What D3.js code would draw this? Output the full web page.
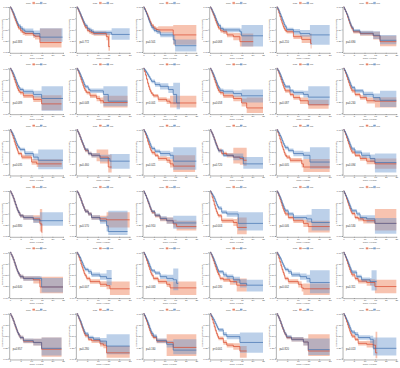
<!DOCTYPE html>
<html>
<head>
<meta charset="utf-8">
<script src="https://cdn.jsdelivr.net/npm/d3@7"></script>
<style>
  html, body { margin: 0; padding: 0; background: #fff; }
  svg { display: block; font-family: "Liberation Sans", Arial, sans-serif; }
  .axis path, .axis line { stroke: #555; stroke-width: 0.45; }
  .axis text { font-size: 2.4px; fill: #555; }
</style>
</head>
<body>
<svg id="chart"></svg>
<script>
// Achsen
const TIME_TICKS = [0, 5, 10, 15, 20, 25];
const SURV_TICKS = [0, 0.25, 0.5, 0.75, 1];
const GROUPS = ['high', 'low'];
const LEGEND_TITLE = 'Risk';
const X_TITLE = 'Time (years)';
const Y_TITLE = 'Survival probability';

const P_VALUES = [
  'p=0.383', 'p=0.772', 'p=0.501', 'p=0.068', 'p=0.210', 'p=0.690',
  'p=0.089', 'p=0.048', 'p<0.001', 'p=0.058', 'p=0.087', 'p=0.240',
  'p=0.035', 'p=0.460', 'p=0.021', 'p=0.720', 'p=0.005', 'p=0.094',
  'p=0.880', 'p=0.570', 'p=0.910', 'p=0.003', 'p=0.046', 'p=0.530',
  'p=0.640', 'p=0.007', 'p=0.063', 'p=0.180', 'p=0.002', 'p=0.311',
  'p=0.957', 'p=0.280', 'p=0.160', 'p<0.001', 'p=0.820', 'p=0.013'
];

// Kurven: [Zeit, Ueberleben, untere KI, obere KI]
const r1c1High = [[0,1,1,1],[.5,.95,.93,.97],[1,.89,.86,.92],[1.5,.83,.79,.87],[2,.76,.72,.8],[2.5,.7,.66,.74],[3,.64,.6,.68],[3.5,.58,.54,.62],[4,.53,.49,.57],[5,.47,.43,.52],[6,.43,.38,.48],[7,.41,.36,.46],[11,.37,.31,.43],[11.8,.35,.28,.42],[14.1,.21,.1,.52],[24.3,.21,.1,.52]];
const r1c1Low = [[0,1,1,1],[.5,.96,.94,.98],[1,.91,.88,.94],[1.5,.86,.83,.89],[2,.8,.76,.84],[2.5,.74,.7,.78],[3,.68,.64,.72],[3.5,.63,.59,.67],[4,.58,.54,.62],[5,.53,.48,.58],[6,.49,.44,.54],[7,.46,.4,.52],[11,.41,.34,.48],[14.1,.33,.23,.53],[24.8,.33,.23,.53]];
const r1c2High = [[0,1,1,1],[.5,.95,.93,.97],[1,.9,.87,.93],[1.5,.84,.81,.87],[2,.78,.74,.82],[2.5,.72,.68,.76],[3,.66,.62,.7],[3.5,.6,.56,.64],[4,.55,.51,.59],[5,.48,.44,.52],[6,.45,.4,.5],[7,.43,.38,.48],[8,.41,.36,.46],[14,.34,.26,.42],[15,.12,.03,.41],[15.7,.12,.03,.41]];
const r1c2Low = [[0,1,1,1],[.5,.96,.94,.98],[1,.91,.88,.94],[1.5,.86,.83,.89],[2,.8,.76,.84],[2.5,.75,.71,.79],[3,.69,.65,.73],[3.5,.64,.6,.68],[4,.59,.55,.63],[5,.52,.48,.56],[6,.49,.44,.54],[7,.46,.41,.51],[8,.43,.38,.48],[16.5,.39,.27,.53],[25,.39,.27,.53]];
const r1c3High = [[0,1,1,1],[.5,.96,.94,.98],[1,.91,.88,.94],[1.5,.86,.83,.89],[2,.8,.76,.84],[2.5,.74,.7,.78],[3,.68,.64,.72],[3.5,.63,.59,.67],[4,.58,.54,.62],[5,.53,.49,.57],[6,.5,.45,.55],[7,.49,.43,.57],[14.1,.38,.16,.6],[25,.38,.16,.6]];
const r1c3Low = [[0,1,1,1],[.5,.95,.93,.97],[1,.9,.87,.93],[1.5,.84,.81,.87],[2,.78,.74,.82],[2.5,.71,.67,.75],[3,.65,.61,.69],[3.5,.59,.55,.63],[4,.54,.5,.58],[5,.48,.44,.53],[6.3,.45,.4,.5],[8,.38,.33,.44],[14.1,.27,.18,.38],[15,.14,.01,.28],[25,.14,.01,.28]];
const r1c4High = [[0,1,1,1],[.5,.95,.93,.97],[1,.89,.86,.92],[1.5,.83,.8,.86],[2,.77,.73,.81],[2.5,.7,.66,.74],[3,.64,.6,.68],[3.5,.58,.54,.62],[4,.53,.49,.57],[5,.47,.43,.51],[6.3,.45,.4,.5],[8,.38,.33,.43],[11,.34,.26,.42],[14.1,.23,.12,.41],[20.4,.23,.12,.41]];
const r1c4Low = [[0,1,1,1],[.5,.96,.94,.98],[1,.91,.88,.94],[1.5,.86,.83,.89],[2,.81,.77,.85],[2.5,.75,.71,.79],[3,.69,.65,.73],[3.5,.64,.6,.68],[4,.59,.55,.63],[5,.52,.48,.56],[6.3,.49,.44,.54],[14.1,.45,.38,.52],[14.9,.36,.12,.6],[25,.36,.12,.6]];
const r1c5High = [[0,1,1,1],[.5,.94,.92,.96],[1,.87,.84,.9],[1.5,.79,.76,.82],[2,.71,.67,.75],[2.5,.64,.6,.68],[3,.57,.53,.61],[3.5,.52,.48,.56],[4,.48,.44,.52],[4.7,.45,.41,.49],[7.9,.34,.29,.39],[11.8,.28,.2,.38],[16,.19,.08,.41],[16.5,.19,.08,.41]];
const r1c5Low = [[0,1,1,1],[.5,.96,.94,.98],[1,.91,.88,.94],[1.5,.85,.82,.88],[2,.79,.75,.83],[2.5,.73,.69,.77],[3,.67,.63,.71],[3.5,.61,.57,.65],[4,.56,.52,.6],[4.7,.5,.46,.54],[7.9,.45,.39,.51],[11,.41,.34,.49],[15.7,.38,.16,.6],[25,.38,.16,.6]];
const r1c6High = [[0,1,1,1],[.5,.95,.93,.97],[1,.9,.87,.93],[1.5,.84,.81,.87],[2,.77,.73,.81],[2.5,.7,.66,.74],[3,.63,.59,.67],[3.5,.57,.53,.61],[4,.52,.48,.56],[4.7,.45,.41,.49],[7.9,.41,.36,.46],[14.1,.36,.28,.45],[17.3,.23,.13,.36],[25,.23,.13,.36]];
const r1c6Low = [[0,1,1,1],[.5,.95,.93,.97],[1,.9,.87,.93],[1.5,.85,.82,.88],[2,.79,.75,.83],[2.5,.72,.68,.76],[3,.65,.61,.69],[3.5,.59,.55,.63],[4,.54,.5,.58],[4.7,.47,.43,.51],[7.9,.42,.37,.47],[14.1,.37,.29,.46],[17.3,.26,.17,.38],[25,.26,.17,.38]];

const r2c1High = [[0,1,1,1],[.5,.95,.93,.97],[1,.89,.86,.92],[1.5,.82,.79,.85],[2,.75,.71,.79],[2.5,.68,.64,.72],[3,.61,.57,.65],[3.5,.55,.51,.59],[4,.5,.46,.54],[4.7,.46,.42,.5],[6.3,.39,.34,.44],[11,.31,.25,.38],[14.9,.21,.07,.4],[24.3,.21,.07,.4]];
const r2c1Low = [[0,1,1,1],[.5,.96,.94,.98],[1,.92,.89,.95],[1.5,.87,.84,.9],[2,.81,.77,.85],[2.5,.75,.71,.79],[3,.69,.65,.73],[3.5,.63,.59,.67],[4,.58,.54,.62],[4.7,.53,.49,.57],[6.3,.48,.43,.53],[11,.42,.35,.5],[14.9,.33,.06,.6],[25,.33,.06,.6]];
const r2c2High = [[0,1,1,1],[.5,.95,.93,.97],[1,.89,.86,.92],[1.5,.82,.79,.85],[2,.75,.71,.79],[2.5,.68,.64,.72],[3,.61,.57,.65],[3.5,.55,.51,.59],[4,.5,.46,.54],[4.7,.46,.42,.5],[6.3,.39,.34,.44],[9.4,.33,.27,.39],[11,.28,.22,.35],[12.6,.24,.13,.39],[24,.24,.13,.39]];
const r2c2Low = [[0,1,1,1],[.5,.96,.94,.98],[1,.92,.89,.95],[1.5,.87,.84,.9],[2,.81,.77,.85],[2.5,.76,.72,.8],[3,.7,.66,.74],[3.5,.64,.6,.68],[4,.59,.55,.63],[5.5,.53,.49,.57],[6.3,.5,.45,.55],[12.6,.42,.16,.6],[14.9,.27,.16,.6],[24,.27,.16,.6]];
const r2c3High = [[0,1,1,1],[.5,.93,.91,.95],[1,.85,.82,.88],[1.5,.76,.73,.79],[2,.67,.63,.71],[2.5,.59,.55,.63],[3,.52,.48,.56],[3.5,.47,.43,.51],[4,.43,.39,.47],[4.7,.39,.35,.43],[7,.31,.26,.36],[11,.27,.21,.33],[12.6,.23,.13,.39],[25,.23,.13,.39]];
const r2c3Low = [[0,1,1,1],[.5,.97,.95,.99],[1,.94,.91,.97],[1.5,.9,.87,.93],[2,.86,.82,.9],[2.5,.82,.78,.86],[3,.78,.74,.82],[3.5,.74,.7,.78],[3.9,.71,.67,.75],[5.5,.64,.59,.69],[7.9,.6,.53,.67],[11.8,.53,.45,.61],[14.1,.42,.2,.68],[15.7,.23,.09,.68],[17.3,.23,.09,.68]];
const r2c4High = [[0,1,1,1],[.5,.95,.93,.97],[1,.89,.86,.92],[1.5,.82,.79,.85],[2,.75,.71,.79],[2.5,.68,.64,.72],[3,.61,.57,.65],[3.5,.55,.51,.59],[4,.5,.46,.54],[4.7,.46,.42,.5],[6.3,.39,.34,.44],[11,.33,.27,.39],[14.9,.23,.15,.33],[17.3,.12,.01,.35],[25,.12,.01,.35]];
const r2c4Low = [[0,1,1,1],[.5,.96,.94,.98],[1,.91,.88,.94],[1.5,.86,.83,.89],[2,.8,.76,.84],[2.5,.74,.7,.78],[3,.68,.64,.72],[3.5,.62,.58,.66],[4,.57,.53,.61],[4.7,.51,.47,.55],[6.3,.48,.43,.53],[11,.44,.37,.51],[14.9,.39,.24,.53],[25,.39,.24,.53]];
const r2c5High = [[0,1,1,1],[.5,.95,.93,.97],[1,.89,.86,.92],[1.5,.82,.79,.85],[2,.75,.71,.79],[2.5,.68,.64,.72],[3,.61,.57,.65],[3.5,.55,.51,.59],[4,.5,.46,.54],[6.3,.42,.38,.46],[7.9,.35,.3,.4],[11,.28,.21,.35],[14.9,.19,.1,.3],[24.5,.19,.1,.3]];
const r2c5Low = [[0,1,1,1],[.5,.96,.94,.98],[1,.92,.89,.95],[1.5,.87,.84,.9],[2,.81,.77,.85],[2.5,.75,.71,.79],[3,.69,.65,.73],[3.5,.64,.6,.68],[4,.59,.55,.63],[6.3,.5,.46,.54],[7.9,.46,.41,.51],[12.6,.42,.35,.5],[14.9,.36,.18,.6],[25,.36,.18,.6]];
const r2c6High = [[0,1,1,1],[.5,.95,.93,.97],[1,.89,.86,.92],[1.5,.82,.79,.85],[2,.75,.71,.79],[2.5,.68,.64,.72],[3,.61,.57,.65],[3.5,.55,.51,.59],[4,.5,.46,.54],[5.5,.42,.38,.46],[7.9,.35,.3,.4],[11,.28,.22,.35],[14.9,.27,.13,.36],[25,.27,.13,.36]];
const r2c6Low = [[0,1,1,1],[.5,.96,.94,.98],[1,.91,.88,.94],[1.5,.86,.83,.89],[2,.8,.76,.84],[2.5,.74,.7,.78],[3,.68,.64,.72],[3.5,.62,.58,.66],[4,.57,.53,.61],[5.5,.5,.46,.54],[9.4,.42,.36,.48],[14.1,.35,.27,.44],[17.3,.29,.14,.5],[25,.29,.14,.5]];

const r3c1High = [[0,1,1,1],[.5,.94,.92,.96],[1,.88,.85,.91],[1.5,.81,.78,.84],[2,.73,.69,.77],[2.5,.66,.62,.7],[3,.59,.55,.63],[3.5,.53,.49,.57],[3.9,.47,.43,.51],[5.5,.39,.34,.44],[10.2,.28,.22,.35],[12.6,.24,.17,.34],[24.4,.24,.17,.34]];
const r3c1Low = [[0,1,1,1],[.5,.96,.94,.98],[1,.92,.89,.95],[1.5,.87,.84,.9],[2,.81,.77,.85],[2.5,.75,.71,.79],[3,.69,.65,.73],[3.5,.64,.6,.68],[4,.6,.56,.64],[4.7,.56,.52,.6],[7,.47,.42,.52],[11,.39,.32,.47],[13.3,.32,.12,.56],[25,.32,.12,.56]];
const r3c2High = [[0,1,1,1],[.5,.95,.93,.97],[1,.9,.87,.93],[1.5,.84,.81,.87],[2,.77,.73,.81],[2.5,.71,.67,.75],[3,.65,.61,.69],[3.5,.59,.55,.63],[4,.54,.5,.58],[5.5,.47,.43,.51],[7,.43,.38,.48],[9.4,.43,.3,.56],[11,.39,.25,.56],[14.9,.17,.05,.45],[16.5,.17,.05,.45]];
const r3c2Low = [[0,1,1,1],[.5,.95,.93,.97],[1,.9,.87,.93],[1.5,.84,.81,.87],[2,.78,.74,.82],[2.5,.72,.68,.76],[3,.66,.62,.7],[3.5,.6,.56,.64],[4,.55,.51,.59],[5.5,.47,.43,.51],[7,.43,.38,.48],[11,.36,.29,.44],[15.7,.3,.13,.46],[25,.3,.13,.46]];
const r3c3High = [[0,1,1,1],[.5,.95,.93,.97],[1,.89,.86,.92],[1.5,.82,.79,.85],[2,.74,.7,.78],[2.5,.67,.63,.71],[3,.6,.56,.64],[3.5,.54,.5,.58],[4,.49,.45,.53],[5.5,.43,.39,.47],[7,.36,.31,.41],[11,.32,.26,.39],[12.6,.24,.16,.34],[14.1,.19,.06,.43],[24.4,.19,.06,.43]];
const r3c3Low = [[0,1,1,1],[.5,.96,.94,.98],[1,.92,.89,.95],[1.5,.87,.84,.9],[2,.81,.77,.85],[2.5,.75,.71,.79],[3,.69,.65,.73],[3.5,.63,.59,.67],[4,.58,.54,.62],[5.5,.52,.48,.56],[7.9,.47,.41,.53],[12.6,.43,.35,.51],[14.1,.3,.11,.61],[25,.3,.11,.61]];
const r3c4High = [[0,1,1,1],[.5,.95,.93,.97],[1,.9,.87,.93],[1.5,.84,.81,.87],[2,.78,.74,.82],[2.5,.71,.67,.75],[3,.65,.61,.69],[3.5,.59,.55,.63],[4,.54,.5,.58],[5.5,.47,.43,.51],[7.9,.43,.38,.48],[11,.39,.25,.6],[14.1,.36,.22,.6],[15.7,.32,.2,.6],[17.3,.32,.2,.6]];
const r3c4Low = [[0,1,1,1],[.5,.95,.93,.97],[1,.9,.87,.93],[1.5,.84,.81,.87],[2,.77,.73,.81],[2.5,.7,.66,.74],[3,.64,.6,.68],[3.5,.58,.54,.62],[4,.53,.49,.57],[6.3,.43,.39,.47],[11,.39,.32,.47],[15.7,.24,.13,.39],[25,.24,.13,.39]];
const r3c5High = [[0,1,1,1],[.5,.94,.92,.96],[1,.87,.84,.9],[1.5,.79,.76,.82],[2,.71,.67,.75],[2.5,.63,.59,.67],[3,.56,.52,.6],[3.5,.49,.45,.53],[4,.43,.39,.47],[4.7,.39,.35,.43],[6.3,.32,.27,.37],[11.8,.24,.16,.33],[12.6,.17,.06,.35],[25,.17,.06,.35]];
const r3c5Low = [[0,1,1,1],[.5,.96,.94,.98],[1,.92,.89,.95],[1.5,.87,.84,.9],[2,.82,.78,.86],[2.5,.76,.72,.8],[3,.7,.66,.74],[3.5,.65,.61,.69],[4,.6,.56,.64],[5.5,.54,.5,.58],[7.9,.47,.41,.53],[12.6,.43,.35,.51],[15.7,.28,.13,.61],[25,.28,.13,.61]];
const r3c6High = [[0,1,1,1],[.5,.95,.93,.97],[1,.89,.86,.92],[1.5,.82,.79,.85],[2,.75,.71,.79],[2.5,.68,.64,.72],[3,.61,.57,.65],[3.5,.55,.51,.59],[4,.5,.46,.54],[5.5,.43,.39,.47],[7.9,.36,.31,.41],[11,.3,.23,.37],[14.9,.24,.13,.36],[25,.24,.13,.36]];
const r3c6Low = [[0,1,1,1],[.5,.96,.94,.98],[1,.91,.88,.94],[1.5,.86,.83,.89],[2,.8,.76,.84],[2.5,.74,.7,.78],[3,.68,.64,.72],[3.5,.62,.58,.66],[4,.57,.53,.61],[5.5,.5,.46,.54],[8.6,.43,.37,.49],[12.6,.36,.28,.45],[14.9,.27,.05,.47],[25,.27,.05,.47]];

const r4c1High = [[0,1,1,1],[.5,.95,.93,.97],[1,.9,.87,.93],[1.5,.84,.81,.87],[2,.77,.73,.81],[2.5,.7,.66,.74],[3,.63,.59,.67],[3.5,.57,.53,.61],[4,.52,.48,.56],[4.7,.45,.41,.49],[6.3,.41,.36,.46],[11,.38,.3,.46],[14.1,.27,.1,.6],[15,.08,0,.6],[15.2,.08,0,.6]];
const r4c1Low = [[0,1,1,1],[.5,.95,.93,.97],[1,.9,.87,.93],[1.5,.84,.81,.87],[2,.77,.73,.81],[2.5,.7,.66,.74],[3,.63,.59,.67],[3.5,.57,.53,.61],[4,.52,.48,.56],[4.7,.45,.41,.49],[6.3,.41,.36,.46],[11,.36,.29,.43],[14.1,.34,.23,.53],[25,.34,.23,.53]];
const r4c2High = [[0,1,1,1],[.5,.96,.94,.98],[1,.91,.88,.94],[1.5,.85,.82,.88],[2,.79,.75,.83],[2.5,.72,.68,.76],[3,.66,.62,.7],[3.5,.6,.56,.64],[4,.55,.51,.59],[5.5,.49,.45,.53],[7,.41,.36,.46],[11,.38,.31,.45],[14.1,.36,.19,.53],[25,.36,.19,.53]];
const r4c2Low = [[0,1,1,1],[.5,.96,.94,.98],[1,.91,.88,.94],[1.5,.85,.82,.88],[2,.79,.75,.83],[2.5,.72,.68,.76],[3,.66,.62,.7],[3.5,.6,.56,.64],[4,.55,.51,.59],[5.5,.49,.45,.53],[7,.41,.36,.46],[11,.34,.27,.42],[14.1,.23,.1,.45],[14.9,.1,.02,.56],[24,.1,.02,.56]];
const r4c3High = [[0,1,1,1],[.5,.95,.93,.97],[1,.9,.87,.93],[1.5,.84,.81,.87],[2,.77,.73,.81],[2.5,.71,.67,.75],[3,.64,.6,.68],[3.5,.58,.54,.62],[4,.53,.49,.57],[5.5,.45,.41,.49],[7.9,.38,.33,.43],[11,.34,.27,.41],[14.1,.27,.19,.36],[15.7,.21,.12,.34],[25,.21,.12,.34]];
const r4c3Low = [[0,1,1,1],[.5,.95,.93,.97],[1,.9,.87,.93],[1.5,.84,.81,.87],[2,.78,.74,.82],[2.5,.72,.68,.76],[3,.65,.61,.69],[3.5,.59,.55,.63],[4,.54,.5,.58],[5.5,.46,.42,.5],[7.9,.39,.34,.44],[11,.34,.27,.41],[14.1,.29,.16,.45],[25,.29,.16,.45]];
const r4c4High = [[0,1,1,1],[.5,.94,.92,.96],[1,.86,.83,.89],[1.5,.78,.75,.81],[2,.69,.65,.73],[2.5,.61,.57,.65],[3,.54,.5,.58],[3.5,.49,.45,.53],[3.9,.45,.41,.49],[5.5,.34,.29,.39],[11,.3,.22,.38],[12.8,.19,.04,.41],[17.3,.19,.04,.41]];
const r4c4Low = [[0,1,1,1],[.5,.96,.94,.98],[1,.92,.89,.95],[1.5,.88,.85,.91],[2,.83,.79,.87],[2.5,.77,.73,.81],[3,.71,.67,.75],[3.5,.66,.62,.7],[4,.62,.58,.66],[5.5,.53,.49,.57],[7.9,.49,.43,.55],[13.3,.28,.12,.53],[25,.28,.12,.53]];
const r4c5High = [[0,1,1,1],[.5,.95,.93,.97],[1,.89,.86,.92],[1.5,.82,.79,.85],[2,.75,.71,.79],[2.5,.67,.63,.71],[3,.6,.56,.64],[3.5,.54,.5,.58],[4,.49,.45,.53],[5.5,.41,.37,.45],[7.9,.34,.29,.39],[12.6,.28,.2,.36],[14.9,.21,.08,.34],[25,.21,.08,.34]];
const r4c5Low = [[0,1,1,1],[.5,.96,.94,.98],[1,.91,.88,.94],[1.5,.86,.83,.89],[2,.8,.76,.84],[2.5,.73,.69,.77],[3,.67,.63,.71],[3.5,.61,.57,.65],[4,.56,.52,.6],[5.5,.49,.45,.53],[7.9,.41,.36,.46],[14.1,.38,.3,.47],[16.5,.3,.12,.6],[25,.3,.12,.6]];
const r4c6High = [[0,1,1,1],[.5,.95,.93,.97],[1,.89,.86,.92],[1.5,.82,.79,.85],[2,.75,.71,.79],[2.5,.68,.64,.72],[3,.61,.57,.65],[3.5,.55,.51,.59],[4,.5,.46,.54],[5.5,.41,.37,.45],[7,.38,.33,.43],[9.4,.34,.28,.4],[14.9,.28,.12,.6],[25,.28,.12,.6]];
const r4c6Low = [[0,1,1,1],[.5,.95,.93,.97],[1,.9,.87,.93],[1.5,.85,.82,.88],[2,.79,.75,.83],[2.5,.73,.69,.77],[3,.67,.63,.71],[3.5,.61,.57,.65],[4,.56,.52,.6],[6.3,.49,.45,.53],[7.9,.41,.36,.46],[11,.38,.3,.46],[14.9,.28,.05,.4],[25,.28,.05,.4]];

const r5c1High = [[0,1,1,1],[.5,.95,.93,.97],[1,.9,.87,.93],[1.5,.84,.81,.87],[2,.77,.73,.81],[2.5,.7,.66,.74],[3,.63,.59,.67],[3.5,.57,.53,.61],[4,.52,.48,.56],[4.7,.46,.42,.5],[6.3,.42,.37,.47],[11,.39,.31,.47],[14.1,.23,.09,.46],[25,.23,.09,.46]];
const r5c1Low = [[0,1,1,1],[.5,.95,.93,.97],[1,.9,.87,.93],[1.5,.84,.81,.87],[2,.77,.73,.81],[2.5,.7,.66,.74],[3,.63,.59,.67],[3.5,.57,.53,.61],[4,.52,.48,.56],[4.7,.46,.42,.5],[6.3,.42,.37,.47],[14.9,.23,.11,.43],[25,.23,.11,.43]];
const r5c2High = [[0,1,1,1],[.5,.95,.93,.97],[1,.89,.86,.92],[1.5,.82,.79,.85],[2,.74,.7,.78],[2.5,.67,.63,.71],[3,.6,.56,.64],[3.5,.53,.49,.57],[4,.48,.44,.52],[4.7,.42,.38,.46],[6.3,.35,.3,.4],[11,.29,.23,.36],[14.1,.26,.18,.35],[15.7,.19,.05,.35],[25,.19,.05,.35]];
const r5c2Low = [[0,1,1,1],[.5,.96,.94,.98],[1,.92,.89,.95],[1.5,.88,.85,.91],[2,.82,.78,.86],[2.5,.77,.73,.81],[3,.71,.67,.75],[3.5,.66,.62,.7],[4,.62,.58,.66],[5.5,.57,.52,.62],[7,.5,.45,.55],[11,.46,.39,.53],[14.1,.42,.27,.61],[16.5,.42,.27,.61]];
const r5c3High = [[0,1,1,1],[.5,.95,.93,.97],[1,.89,.86,.92],[1.5,.82,.79,.85],[2,.75,.71,.79],[2.5,.68,.64,.72],[3,.61,.57,.65],[3.5,.54,.5,.58],[4,.49,.45,.53],[4.7,.42,.38,.46],[7,.35,.3,.4],[11,.29,.23,.36],[12.6,.21,.05,.35],[25,.21,.05,.35]];
const r5c3Low = [[0,1,1,1],[.5,.96,.94,.98],[1,.91,.88,.94],[1.5,.86,.83,.89],[2,.81,.77,.85],[2.5,.75,.71,.79],[3,.69,.65,.73],[3.5,.63,.59,.67],[4,.59,.55,.63],[5.5,.54,.5,.58],[7.9,.46,.41,.51],[11,.42,.35,.5],[14.1,.39,.16,.64],[15.7,.31,.16,.64],[16.5,.31,.16,.64]];
const r5c4High = [[0,1,1,1],[.5,.95,.93,.97],[1,.89,.86,.92],[1.5,.82,.79,.85],[2,.75,.71,.79],[2.5,.68,.64,.72],[3,.61,.57,.65],[3.5,.55,.51,.59],[4,.5,.46,.54],[4.7,.42,.38,.46],[6.3,.39,.34,.44],[9.4,.35,.28,.42],[12.6,.27,.13,.42],[17.3,.27,.13,.42]];
const r5c4Low = [[0,1,1,1],[.5,.96,.94,.98],[1,.91,.88,.94],[1.5,.86,.83,.89],[2,.8,.76,.84],[2.5,.74,.7,.78],[3,.68,.64,.72],[3.5,.62,.58,.66],[4,.57,.53,.61],[6.3,.5,.45,.55],[7.9,.46,.41,.51],[11,.39,.32,.46],[14.1,.31,.22,.4],[17.3,.27,.13,.39],[25,.27,.13,.39]];
const r5c5High = [[0,1,1,1],[.5,.94,.92,.96],[1,.87,.84,.9],[1.5,.79,.76,.82],[2,.7,.66,.74],[2.5,.62,.58,.66],[3,.55,.51,.59],[3.5,.49,.45,.53],[3.9,.42,.38,.46],[5.5,.35,.3,.4],[10.2,.29,.22,.36],[11.8,.21,.13,.3],[12.6,.19,.05,.31],[25,.19,.05,.31]];
const r5c5Low = [[0,1,1,1],[.5,.96,.94,.98],[1,.92,.89,.95],[1.5,.88,.85,.91],[2,.83,.79,.87],[2.5,.77,.73,.81],[3,.72,.68,.76],[3.5,.67,.63,.71],[4,.62,.58,.66],[5.5,.57,.52,.62],[7,.5,.45,.55],[11,.46,.39,.53],[14.1,.42,.33,.5],[15.7,.33,.09,.6],[25,.33,.09,.6]];
const r5c6High = [[0,1,1,1],[.5,.95,.93,.97],[1,.89,.86,.92],[1.5,.82,.79,.85],[2,.75,.71,.79],[2.5,.68,.64,.72],[3,.61,.57,.65],[3.5,.55,.51,.59],[4,.5,.46,.54],[5.5,.42,.38,.46],[7,.36,.31,.41],[11,.33,.26,.4],[14.9,.24,.09,.39],[25,.24,.09,.39]];
const r5c6Low = [[0,1,1,1],[.5,.95,.93,.97],[1,.9,.87,.93],[1.5,.85,.82,.88],[2,.79,.75,.83],[2.5,.73,.69,.77],[3,.67,.63,.71],[3.5,.61,.57,.65],[4,.56,.52,.6],[6.3,.46,.42,.5],[8.6,.39,.34,.44],[12.6,.35,.27,.43],[13.3,.35,.15,.6],[15.7,.35,.15,.6]];

const r6c1High = [[0,1,1,1],[.5,.95,.93,.97],[1,.9,.87,.93],[1.5,.84,.81,.87],[2,.77,.73,.81],[2.5,.7,.66,.74],[3,.64,.6,.68],[3.5,.58,.54,.62],[4,.53,.49,.57],[4.7,.47,.43,.51],[6.3,.39,.34,.44],[11,.36,.29,.44],[14.9,.21,.04,.47],[24.3,.21,.04,.47]];
const r6c1Low = [[0,1,1,1],[.5,.95,.93,.97],[1,.9,.87,.93],[1.5,.84,.81,.87],[2,.77,.73,.81],[2.5,.71,.67,.75],[3,.64,.6,.68],[3.5,.58,.54,.62],[4,.53,.49,.57],[4.7,.47,.43,.51],[6.3,.4,.35,.45],[11,.36,.29,.44],[14.9,.23,.07,.47],[24.3,.23,.07,.47]];
const r6c2High = [[0,1,1,1],[.5,.95,.93,.97],[1,.89,.86,.92],[1.5,.83,.8,.86],[2,.76,.72,.8],[2.5,.69,.65,.73],[3,.62,.58,.66],[3.5,.56,.52,.6],[4,.51,.47,.55],[5.5,.43,.39,.47],[7,.4,.35,.45],[11,.33,.27,.4],[12.6,.3,.23,.38],[14.1,.13,.02,.28],[25,.13,.02,.28]];
const r6c2Low = [[0,1,1,1],[.5,.95,.93,.97],[1,.9,.87,.93],[1.5,.85,.82,.88],[2,.79,.75,.83],[2.5,.72,.68,.76],[3,.66,.62,.7],[3.5,.6,.56,.64],[4,.55,.51,.59],[5.5,.47,.43,.51],[7.9,.43,.38,.48],[11,.39,.32,.46],[14.1,.28,.1,.54],[25,.28,.1,.54]];
const r6c3High = [[0,1,1,1],[.5,.95,.93,.97],[1,.89,.86,.92],[1.5,.83,.8,.86],[2,.76,.72,.8],[2.5,.69,.65,.73],[3,.62,.58,.66],[3.5,.56,.52,.6],[4,.51,.47,.55],[4.7,.47,.43,.51],[6.3,.39,.34,.44],[11,.36,.06,.54],[14.1,.25,.06,.54],[25,.25,.06,.54]];
const r6c3Low = [[0,1,1,1],[.5,.96,.94,.98],[1,.91,.88,.94],[1.5,.86,.83,.89],[2,.8,.76,.84],[2.5,.74,.7,.78],[3,.67,.63,.71],[3.5,.61,.57,.65],[4,.56,.52,.6],[4.7,.5,.46,.54],[6.3,.4,.35,.45],[11,.32,.25,.4],[14.1,.19,.1,.43],[25,.19,.1,.43]];
const r6c4High = [[0,1,1,1],[.5,.94,.92,.96],[1,.87,.84,.9],[1.5,.79,.76,.82],[2,.71,.67,.75],[2.5,.63,.59,.67],[3,.56,.52,.6],[3.5,.5,.46,.54],[4,.45,.41,.49],[6.3,.36,.31,.41],[7.9,.3,.25,.35],[11,.27,.2,.34],[14.1,.17,.02,.28],[17.3,.17,.02,.28]];
const r6c4Low = [[0,1,1,1],[.5,.96,.94,.98],[1,.92,.89,.95],[1.5,.88,.85,.91],[2,.83,.79,.87],[2.5,.78,.74,.82],[3,.73,.69,.77],[3.5,.68,.64,.72],[4,.64,.6,.68],[6.3,.54,.49,.59],[7.9,.49,.43,.55],[14.1,.36,.13,.58],[25,.36,.13,.58]];
const r6c5High = [[0,1,1,1],[.5,.95,.93,.97],[1,.9,.87,.93],[1.5,.84,.81,.87],[2,.77,.73,.81],[2.5,.7,.66,.74],[3,.64,.6,.68],[3.5,.58,.54,.62],[4,.53,.49,.57],[4.7,.47,.43,.51],[7,.43,.38,.48],[12.6,.37,.29,.45],[14.9,.17,.06,.54],[25,.17,.06,.54]];
const r6c5Low = [[0,1,1,1],[.5,.95,.93,.97],[1,.9,.87,.93],[1.5,.84,.81,.87],[2,.78,.74,.82],[2.5,.71,.67,.75],[3,.65,.61,.69],[3.5,.59,.55,.63],[4,.54,.5,.58],[4.7,.48,.44,.52],[7,.43,.38,.48],[12.6,.37,.29,.45],[14.9,.2,.08,.45],[25,.2,.08,.45]];
const r6c6High = [[0,1,1,1],[.5,.95,.93,.97],[1,.89,.86,.92],[1.5,.82,.79,.85],[2,.75,.71,.79],[2.5,.68,.64,.72],[3,.61,.57,.65],[3.5,.55,.51,.59],[4,.5,.46,.54],[5.5,.43,.39,.47],[7,.34,.29,.39],[11,.32,.25,.4],[14.1,.3,.2,.42],[15.2,.13,.01,.6],[16,.13,.01,.6]];
const r6c6Low = [[0,1,1,1],[.5,.96,.94,.98],[1,.91,.88,.94],[1.5,.86,.83,.89],[2,.81,.77,.85],[2.5,.75,.71,.79],[3,.69,.65,.73],[3.5,.63,.59,.67],[4,.59,.55,.63],[5.5,.54,.49,.59],[7,.47,.42,.52],[12.6,.43,.35,.51],[14.1,.23,.07,.47],[25,.23,.07,.47]];

// Panels zeilenweise
const PANELS = [
  [r1c1High, r1c1Low], [r1c2High, r1c2Low], [r1c3High, r1c3Low], [r1c4High, r1c4Low], [r1c5High, r1c5Low], [r1c6High, r1c6Low],
  [r2c1High, r2c1Low], [r2c2High, r2c2Low], [r2c3High, r2c3Low], [r2c4High, r2c4Low], [r2c5High, r2c5Low], [r2c6High, r2c6Low],
  [r3c1High, r3c1Low], [r3c2High, r3c2Low], [r3c3High, r3c3Low], [r3c4High, r3c4Low], [r3c5High, r3c5Low], [r3c6High, r3c6Low],
  [r4c1High, r4c1Low], [r4c2High, r4c2Low], [r4c3High, r4c3Low], [r4c4High, r4c4Low], [r4c5High, r4c5Low], [r4c6High, r4c6Low],
  [r5c1High, r5c1Low], [r5c2High, r5c2Low], [r5c3High, r5c3Low], [r5c4High, r5c4Low], [r5c5High, r5c5Low], [r5c6High, r5c6Low],
  [r6c1High, r6c1Low], [r6c2High, r6c2Low], [r6c3High, r6c3Low], [r6c4High, r6c4Low], [r6c5High, r6c5Low], [r6c6High, r6c6Low]
];

const LINE_COLORS = ['#D8462A', '#3D6DAD'];
const FILL_COLORS = ['#EE7A50', '#6A97CF'];

const W = 400, H = 368, COLS = 6;
const cellW = W / COLS, cellH = H / COLS;

const svg = d3.select('#chart').attr('width', W).attr('height', H);

// Skalen (pro Panel gleich)
const x = d3.scaleLinear().domain([0, 25]).range([10, 63]);
const y = d3.scaleLinear().domain([0, 1]).range([52, 7]);

const band = d3.area()
    .curve(d3.curveStepAfter)
    .x(d => x(d[0]))
    .y0(d => y(d[2]))
    .y1(d => y(d[3]));

const line = d3.line()
    .curve(d3.curveStepAfter)
    .x(d => x(d[0]))
    .y(d => y(d[1]));

PANELS.forEach((pair, i) => {
    const g = svg.append('g')
        .attr('transform', `translate(${(i % COLS) * cellW},${Math.floor(i / COLS) * cellH})`);

    // KI-Baender
    pair.forEach((curve, k) => {
        g.append('path')
            .datum(curve)
            .attr('d', band)
            .attr('fill', FILL_COLORS[k])
            .attr('fill-opacity', 0.45);
    });

    // Kurven
    pair.forEach((curve, k) => {
        g.append('path')
            .datum(curve)
            .attr('d', line)
            .attr('fill', 'none')
            .attr('stroke', LINE_COLORS[k])
            .attr('stroke-width', 0.85)
            .attr('stroke-opacity', 0.8);
    });

    // Achsen
    g.append('g')
        .attr('class', 'axis')
        .attr('transform', `translate(${x(0) - 0.8},0)`)
        .call(d3.axisLeft(y).tickValues(SURV_TICKS).tickSize(0.8).tickPadding(0.6).tickFormat(d3.format('.2f')));

    g.append('g')
        .attr('class', 'axis')
        .attr('transform', `translate(0,${y(0) + 0.8})`)
        .call(d3.axisBottom(x).tickValues(TIME_TICKS).tickSize(0.8).tickPadding(0.4));

    g.append('text')
        .attr('transform', `translate(3.2,${(y(0) + y(1)) / 2}) rotate(-90)`)
        .attr('text-anchor', 'middle')
        .style('font-size', '2.5px')
        .style('fill', '#555')
        .text(Y_TITLE);

    g.append('text')
        .attr('x', (x(0) + x(25)) / 2)
        .attr('y', y(0) + 6.6)
        .attr('text-anchor', 'middle')
        .style('font-size', '2.5px')
        .style('fill', '#555')
        .text(X_TITLE);

    // p-Wert
    g.append('text')
        .attr('x', x(1.3))
        .attr('y', y(0.2))
        .style('font-size', '2.6px')
        .style('fill', '#333')
        .text(P_VALUES[i]);

    // Legende
    const legend = g.append('g').attr('transform', 'translate(26,3)');
    legend.append('text')
        .attr('x', 0).attr('y', 0.9)
        .style('font-size', '2.4px').style('fill', '#555')
        .text(LEGEND_TITLE);
    GROUPS.forEach((grp, k) => {
        const lx = 6.5 + k * 7.5;
        legend.append('rect')
            .attr('x', lx).attr('y', -1.2)
            .attr('width', 2.4).attr('height', 2.4)
            .attr('fill', FILL_COLORS[k]).attr('fill-opacity', 0.5);
        legend.append('line')
            .attr('x1', lx).attr('x2', lx + 2.4)
            .attr('y1', 0).attr('y2', 0)
            .attr('stroke', LINE_COLORS[k]).attr('stroke-width', 0.6);
        legend.append('text')
            .attr('x', lx + 3).attr('y', 0.9)
            .style('font-size', '2.4px').style('fill', '#555')
            .text(grp);
    });
});
</script>
</body>
</html>
